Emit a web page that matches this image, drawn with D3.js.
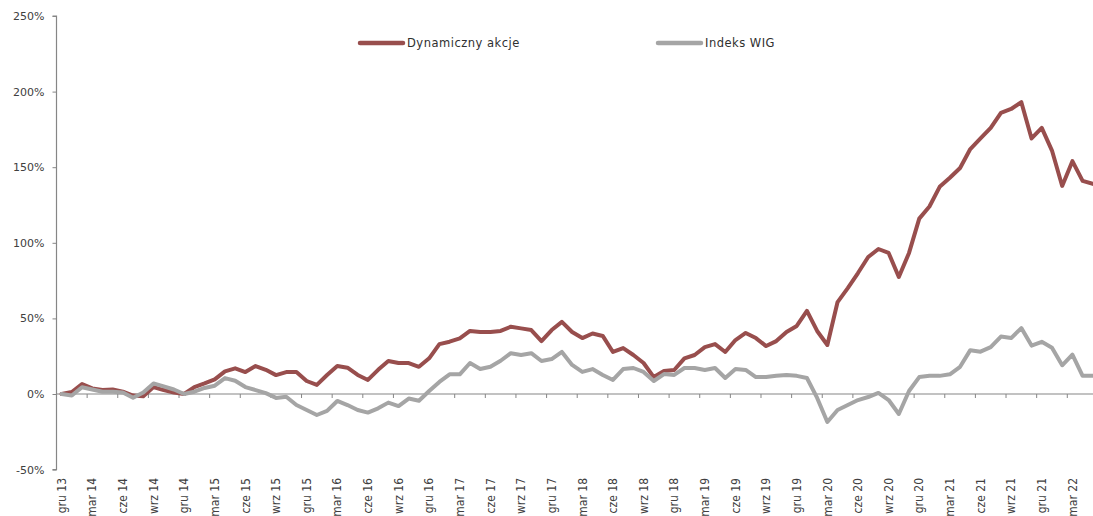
<!DOCTYPE html>
<html><head><meta charset="utf-8">
<script src="https://cdn.jsdelivr.net/npm/d3@7"></script>
<style>
html,body{margin:0;padding:0;background:#fff;}
svg{display:block;}
</style></head>
<body>
<svg id="chart" width="1093" height="516"></svg>
<script>
// ---- data ----
const seriesNames = ["Dynamiczny akcje", "Indeks WIG"];
const dynamiczny = [0,1.3,6.6,3.7,2.6,3,1.5,-1,-1.5,4.6,2.6,1,0,4.6,7,9.7,15,17,14.5,18.5,
  16,12.5,14.5,14.5,8.6,6,12.6,18.5,17.4,12.6,9.3,16,21.8,20.5,20.5,18,23.6,33,34.6,36.8,
  41.7,41,41,41.7,44.5,43.4,42.3,35,42.3,47.7,41,37,40,38.4,27.8,30.4,25.8,20.5,11.2,15.2,
  15.9,23.6,25.8,31,33,27.8,35.7,40.4,37,31.7,35,41,45,55,41.7,32.4,60.8,70,80,90.6,
  95.9,93.3,77.4,93.3,116,124,137,143,149.5,162,169,176,186,188.5,193,169,176,161,137.6,154,
  141,139];
const wig = [0,-1,4.5,3,1.5,1.5,1,-2.5,1,7,5,3,0,1.5,4,5.5,10.5,8.8,4.6,2.6,
  0.6,-2.6,-1.8,-7.3,-10.6,-13.9,-11.2,-4.6,-7.3,-10.6,-12.3,-9.5,-5.7,-8,-3,-4.5,2,8,13,13,
  20.5,16.5,18,22,27,25.8,27,21.8,23.1,27.8,19.2,14.6,16.5,12.6,9.3,16.5,17.2,14.6,8.6,13.2,
  12.6,17.2,17.2,15.9,17.2,10.6,16.5,15.9,11.2,11.2,12,12.6,12,10.6,-2.6,-18.5,-10.6,-7.3,-4,-2,
  0.7,-4,-13.2,2,11.2,12,12,13,18,29,28,31,38,37,43.6,32,34.5,30.6,19,26,
  12,12];
const tickLabels = ["gru 13","mar 14","cze 14","wrz 14","gru 14","mar 15","cze 15","wrz 15",
  "gru 15","mar 16","cze 16","wrz 16","gru 16","mar 17","cze 17","wrz 17","gru 17","mar 18",
  "cze 18","wrz 18","gru 18","mar 19","cze 19","wrz 19","gru 19","mar 20","cze 20","wrz 20",
  "gru 20","mar 21","cze 21","wrz 21","gru 21","mar 22"];
const yTicks = [-50,0,50,100,150,200,250];
const categories = d3.range(dynamiczny.length); // monthly, Dec 2013 .. May 2022

// ---- layout ----
const colors = ["#984E4D", "#A5A5A5"];
const left = 56.5, bandW = 10.21;
const svg = d3.select("#chart");

const x = d3.scaleBand().domain(categories).range([left, left + bandW * categories.length]).padding(0);
const y = d3.scaleLinear().domain([-50, 250]).range([469.6, 16]);
const cx = i => x(i) + x.bandwidth() / 2;

// y axis
const yAxis = svg.append("g").attr("transform", `translate(${left},0)`)
  .call(d3.axisLeft(y).tickValues(yTicks).tickFormat(d => d + "%").tickSize(4).tickPadding(8));
yAxis.select(".domain").attr("stroke", "#868686").attr("stroke-width", 1.2).attr("d", `M-4,${y(-50)}H0V${y(250)}H-4`);
yAxis.selectAll(".tick line").attr("stroke", "#868686");
yAxis.selectAll(".tick text").attr("fill", "#404040").style("font-family", "DejaVu Sans").style("font-size", "11px");

// x axis at zero: tick marks at boundaries every 3 months
const bounds = categories.filter(i => i % 3 === 0 && i > 0);
const xTickAxis = svg.append("g").attr("transform", `translate(0,${y(0)})`)
  .call(d3.axisBottom(x).tickValues(bounds).tickFormat("").tickSize(4).tickSizeOuter(0));
xTickAxis.selectAll(".tick").attr("transform", d => `translate(${x(d)},0)`);
xTickAxis.select(".domain").attr("stroke", "#868686").attr("stroke-width", 1.2).attr("d", `M${left},0H1093`);
xTickAxis.selectAll(".tick line").attr("stroke", "#868686");

// x labels
const labelIdx = categories.filter(i => i % 3 === 0);
const xLab = svg.append("g").attr("transform", `translate(0,478)`)
  .call(d3.axisBottom(x).tickValues(labelIdx).tickFormat(i => tickLabels[i / 3]).tickSize(0));
xLab.select(".domain").remove();
xLab.selectAll(".tick text")
  .attr("transform", "rotate(-90)")
  .attr("text-anchor", "end")
  .attr("x", 0).attr("y", 0).attr("dy", "0.35em")
  .attr("fill", "#404040")
  .style("font-family", "'Liberation Sans Narrow', 'DejaVu Sans Condensed', sans-serif")
  .style("font-size", "12px");

// lines
const line = d3.line().x((d, i) => cx(i)).y(d => y(d));
[dynamiczny, wig].forEach((s, k) => {
  svg.append("path").datum(s)
    .attr("fill", "none").attr("stroke", colors[k]).attr("stroke-width", 4)
    .attr("stroke-linejoin", "round").attr("stroke-linecap", "round")
    .attr("d", line);
});

// legend
const legendX = [360, 658];
seriesNames.forEach((n, k) => {
  const g = svg.append("g").attr("transform", `translate(${legendX[k]},43)`);
  g.append("line").attr("x1", 0).attr("x2", 43).attr("y1", 0).attr("y2", 0)
    .attr("stroke", colors[k]).attr("stroke-width", 4.5).attr("stroke-linecap", "round");
  g.append("text").attr("x", 47).attr("y", 0).attr("dy", "0.35em")
    .attr("fill", "#303030").style("font-family", "DejaVu Sans").style("font-size", "11.5px")
    .style("letter-spacing", "0.5px")
    .text(n);
});
</script>
</body></html>
